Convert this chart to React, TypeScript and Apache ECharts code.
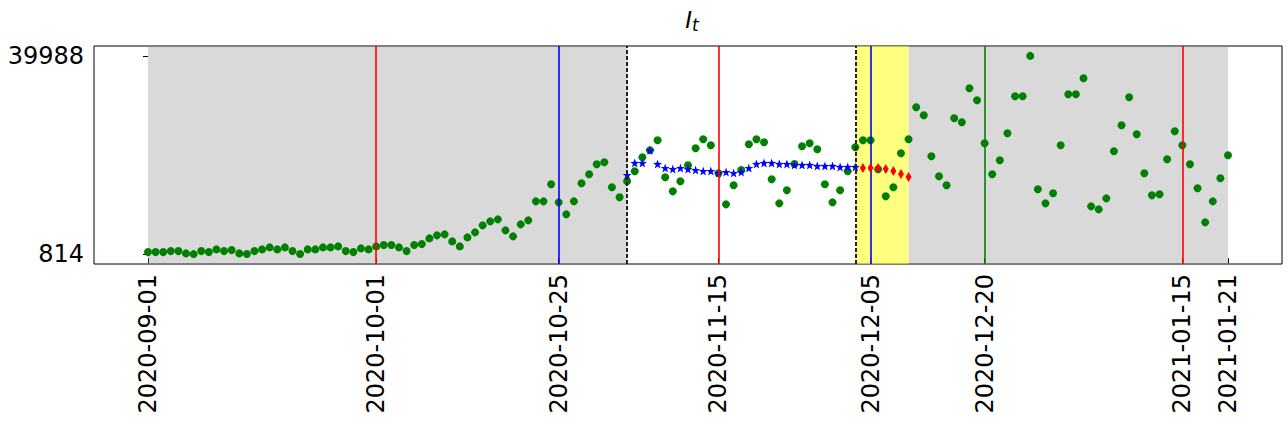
import React, { useEffect, useRef } from "react";
import * as echarts from "echarts";

const START_DATE = "2020-09-01";
const observed = [
  1210, 1210, 1210, 1408, 1408, 952, 814, 1408, 1210, 1744,
  1408, 1605, 952, 830, 1408, 1744, 2140, 1744, 2140, 1408,
  830, 1744, 1744, 2140, 2140, 2337, 1408, 1210, 1942, 1744,
  2337, 2595, 2595, 2140, 1408, 2595, 2793, 3920, 4514, 4712,
  3327, 2337, 4118, 5107, 6492, 7284, 7680, 5503, 4316, 6690,
  7482, 11241, 11241, 14604, 11043, 8669, 11241, 14802, 16583, 18561,
  18957, 14011, 12032, 15198, 17176, 19946, 21331, 23310, 15989, 13219,
  15198, 18363, 21727, 23508, 22320, 16780, 10647, 14406, 17433, 22518,
  23508, 22914, 15594, 10845, 13417, 18621, 22122, 22716, 21529, 14604,
  11043, 13417, 17176, 21925, 23310, 23310, 17572, 12230, 14011, 20737,
  23508, 29838, 28256, 20144, 16187, 14406, 27662, 26871, 33597, 31224,
  22716, 16583, 19352, 24695, 32015, 32015, 39988, 13615, 10845, 12824,
  22320, 32411, 32411, 35576, 10251, 9658, 11834, 21133, 26277, 31817,
  24497, 16780, 12428, 12626, 19550, 25090, 22320, 18561, 13813, 7086,
  11241, 15792, 20342,
];
const SMOOTHED_START = "2020-11-03";
const smoothed = [
  16444, 18818, 18818, 21331, 18621, 17829, 17631, 17829, 17631, 17433,
  17236, 17236, 16840, 17038, 16840, 17038, 17829, 18621, 18818, 18818,
  18621, 18621, 18423, 18423, 18423, 18225, 18225, 18225, 18027, 18027,
  18027,
];
const FORECAST_START = "2020-12-04";
const forecast = [17829, 17829, 17829, 17631, 17236, 16642, 16048];

const xTickLabels = [
  "2020-09-01", "2020-10-01", "2020-10-25", "2020-11-15",
  "2020-12-05", "2020-12-20", "2021-01-15", "2021-01-21",
];
const yTickValues = [814, 39988];
const redLines = ["2020-10-01", "2020-11-15", "2021-01-15"];
const blueLines = ["2020-10-25", "2020-12-05"];
const greenLines = ["2020-12-20"];
const dashedLines = ["2020-11-03", "2020-12-03"];
const grayRanges = [["2020-09-01", "2020-11-03"], ["2020-12-10", "2021-01-21"]];
const yellowRanges = [["2020-12-03", "2020-12-10"]];

const DAY = 86400000;
const toUTC = (s: string) => {
  const [y, m, d] = s.split("-").map(Number);
  return Date.UTC(y, m - 1, d);
};
const base = toUTC(START_DATE);
const idx = (s: string) => Math.round((toUTC(s) - base) / DAY);
const fmt = (i: number) => new Date(base + Math.round(i) * DAY).toISOString().slice(0, 10);

const STAR = "path://M0,-10L2.35,-3.24L9.51,-3.09L3.8,1.24L5.88,8.09L0,4L-5.88,8.09L-3.8,1.24L-9.51,-3.09L-2.35,-3.24Z";
const FONT = "DejaVu Sans";

export default function App() {
  const ref = useRef<HTMLDivElement>(null);
  useEffect(() => {
    const chart = echarts.init(ref.current!, null, { renderer: "svg" });
    const obsData = observed.map((v, i) => [i, v]);
    const s0 = idx(SMOOTHED_START);
    const smData = smoothed.map((v, i) => [s0 + i, v]);
    const f0 = idx(FORECAST_START);
    const fcData = forecast.map((v, i) => [f0 + i, v]);
    const n = observed.length - 1;
    const margin = n * 0.05;
    const yMin = Math.min(...observed), yMax = Math.max(...observed);
    const yMargin = (yMax - yMin) * 0.05;

    const vline = (d: string, color: string, type: any = "solid", width = 2) => ({
      xAxis: idx(d),
      lineStyle: { color, width, type },
    });

    chart.setOption({
      animation: false,
      backgroundColor: "#fff",
      title: {
        text: "{a|I}{b|t}",
        left: 687,
        top: 3,
        textAlign: "center",
        textStyle: {
          fontWeight: "normal",
          rich: {
            a: { fontFamily: FONT, fontStyle: "italic", fontWeight: "normal", fontSize: 23, color: "#000", verticalAlign: "top" },
            b: { fontFamily: FONT, fontStyle: "italic", fontWeight: "normal", fontSize: 17, color: "#000", verticalAlign: "top", padding: [8, 0, 0, 0] },
          },
        },
      },
      grid: {
        left: 94, right: 6, top: 46, bottom: 160,
        outerBoundsMode: "none",
        containLabel: false,
        show: true, borderColor: "#000", borderWidth: 1, backgroundColor: "transparent",
      },
      xAxis: {
        type: "value",
        min: -margin,
        max: n + margin,
        splitLine: { show: false },
        axisLine: { show: false },
        axisTick: { show: true, length: 5, lineStyle: { color: "#000" }, customValues: xTickLabels.map(idx) },
        axisLabel: {
          customValues: xTickLabels.map(idx),
          formatter: (v: number) => fmt(v),
          rotate: 90,
          fontSize: 24,
          fontFamily: FONT,
          color: "#000",
          margin: 10,
        },
      },
      yAxis: {
        type: "value",
        min: yMin - yMargin,
        max: yMax + yMargin,
        splitLine: { show: false },
        axisLine: { show: false },
        axisTick: { show: true, length: 5, lineStyle: { color: "#000" }, customValues: yTickValues },
        axisLabel: {
          customValues: yTickValues,
          formatter: (v: number) => String(Math.round(v)),
          fontSize: 24,
          fontFamily: FONT,
          color: "#000",
          margin: 10,
        },
      },
      series: [
        {
          type: "scatter",
          data: obsData,
          symbol: "circle",
          symbolSize: 8,
          itemStyle: { color: "#008000", opacity: 1 },
          z: 3,
          markArea: {
            silent: true,
            data: [
              ...grayRanges.map(([a, b]) => [
                { xAxis: idx(a), itemStyle: { color: "rgba(128,128,128,0.3)" } },
                { xAxis: idx(b) },
              ]),
              ...yellowRanges.map(([a, b]) => [
                { xAxis: idx(a), itemStyle: { color: "rgba(255,255,0,0.5)" } },
                { xAxis: idx(b) },
              ]),
            ],
          },
        },
        {
          type: "line",
          data: [],
          z: 2,
          markLine: {
            silent: true,
            symbol: ["none", "none"],
            label: { show: false },
            data: [
              ...redLines.map((d) => vline(d, "rgba(255,0,0,0.8)")),
              ...blueLines.map((d) => vline(d, "rgba(0,0,255,0.8)")),
              ...greenLines.map((d) => vline(d, "rgba(0,128,0,0.8)")),
              ...dashedLines.map((d) => vline(d, "#222", [4, 2], 2)),
            ],
          },
        },
        {
          type: "scatter",
          data: smData,
          symbol: STAR,
          symbolSize: 9,
          itemStyle: { color: "#0000ff", opacity: 1 },
          z: 4,
        },
        {
          type: "scatter",
          data: fcData,
          symbol: "diamond",
          symbolSize: [6, 10],
          itemStyle: { color: "#ff0000", opacity: 1 },
          z: 5,
        },
      ],
    });
    return () => chart.dispose();
  }, []);
  return <div ref={ref} style={{ position: "fixed", left: 0, top: 0, width: 1288, height: 424 }} />;
}
